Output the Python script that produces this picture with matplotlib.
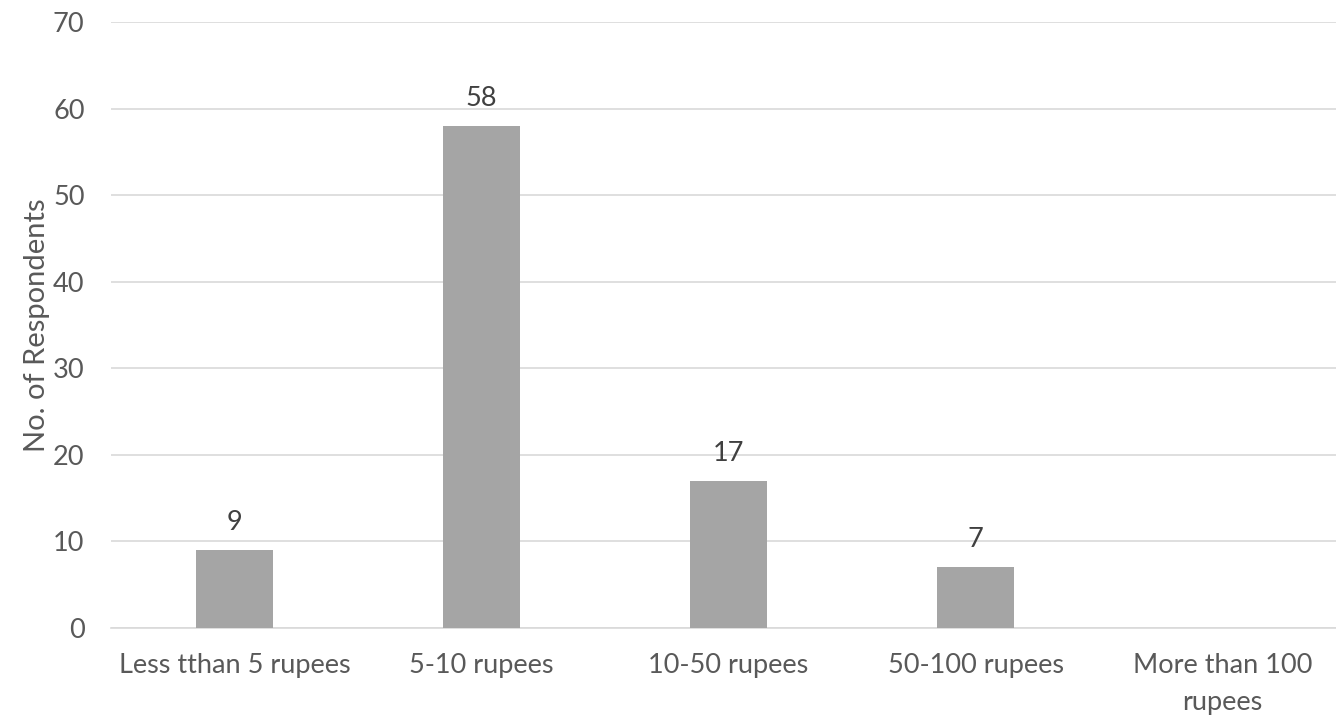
import matplotlib.pyplot as plt

categories = ["Less tthan 5 rupees", "5-10 rupees", "10-50 rupees", "50-100 rupees", "More than 100\nrupees"]
respondents = [9, 58, 17, 7, 0]
bar_labels = ["9", "58", "17", "7", ""]

plt.rcParams['font.family'] = ['Lato', 'DejaVu Sans']
text_color = "#595959"

fig = plt.figure(figsize=(13.36, 7.17), dpi=100)
ax = fig.add_axes([111 / 1336, 1 - 628 / 717, 1235 / 1336, 606 / 717])

x = range(len(categories))
bars = ax.bar(x, respondents, width=0.31, color="#A5A5A5", zorder=3)

for rect, lab in zip(bars, bar_labels):
    if lab:
        ax.annotate(lab, (rect.get_x() + rect.get_width() / 2, rect.get_height()),
                    xytext=(0, 11), textcoords="offset points",
                    ha="center", va="bottom", fontsize=19.5, color="#404040")

ax.set_xlim(-0.5, len(categories) - 0.5)
ax.set_ylim(0, 70)
ax.set_yticks(range(0, 71, 10))
ax.set_xticks(list(x))
ax.set_xticklabels(categories, fontsize=19.5, color=text_color, linespacing=1.6)
ax.tick_params(axis="y", labelsize=19.5, labelcolor=text_color, length=0, pad=19)
ax.tick_params(axis="x", length=0, pad=18)
ax.set_ylabel("No. of Respondents", fontsize=21, color=text_color, labelpad=2)

ax.grid(axis="y", color="#D9D9D9", linewidth=1.2, zorder=0)
for s in ["top", "right", "left"]:
    ax.spines[s].set_visible(False)
ax.spines["bottom"].set_color("#D9D9D9")
ax.spines["bottom"].set_linewidth(1.2)

fig.savefig("out.png", dpi=100)
